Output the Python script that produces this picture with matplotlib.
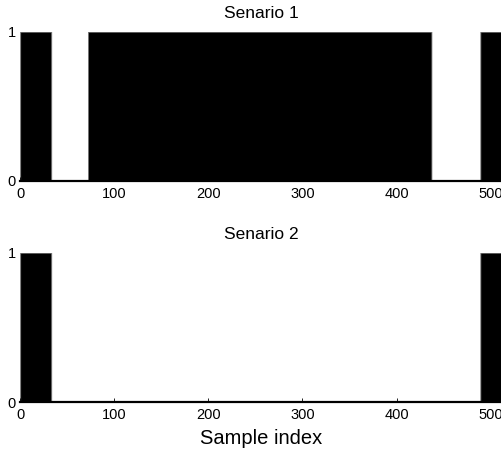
import numpy as np
import matplotlib
matplotlib.use("Agg")
import matplotlib.pyplot as plt

# ---------------------------------------------------------------------------
# Data: binary on/off signal over 512 samples, given as "on" intervals
# ---------------------------------------------------------------------------
N_SAMPLES = 512
TITLES = ["Senario 1", "Senario 2"]
SCENARIO1_ON = [(0, 33), (72, 437), (489, 512)]
SCENARIO2_ON = [(0, 33), (489, 512)]
XTICKS = [0, 100, 200, 300, 400, 500]
YTICKS = [0, 1]

plt.rcParams["font.family"] = ["Liberation Sans", "DejaVu Sans"]


def to_signal(intervals):
    sig = np.zeros(N_SAMPLES + 1)
    for start, stop in intervals:
        sig[start:stop] = 1
    return sig


def draw(ax, intervals, title):
    x = np.arange(N_SAMPLES + 1)
    y = to_signal(intervals)
    ax.fill_between(x, 0, y, step="post", color="black", edgecolor="#777777",
                    linewidth=0.6)
    ax.set_xlim(0, N_SAMPLES)
    ax.set_ylim(0, 1)
    ax.set_xticks(XTICKS)
    ax.set_yticks(YTICKS)
    ax.tick_params(axis="both", direction="in", length=3, width=0.6,
                   labelsize=10.5, pad=4)
    ax.tick_params(axis="y", length=0, pad=3)
    for side in ("top", "right", "left"):
        ax.spines[side].set_visible(False)
    ax.spines["bottom"].set_linewidth(1.6)
    ax.set_title(title, fontsize=12.5, pad=10)


fig = plt.figure(figsize=(5.02, 4.49), dpi=100)
ax1 = fig.add_axes([0.0402, 0.5969, 0.9598, 0.3325])
ax2 = fig.add_axes([0.0402, 0.1040, 0.9598, 0.3332])

draw(ax1, SCENARIO1_ON, TITLES[0])
draw(ax2, SCENARIO2_ON, TITLES[1])
ax2.set_xlabel("Sample index", fontsize=14.5, labelpad=5)

fig.savefig("out.png", dpi=100)
